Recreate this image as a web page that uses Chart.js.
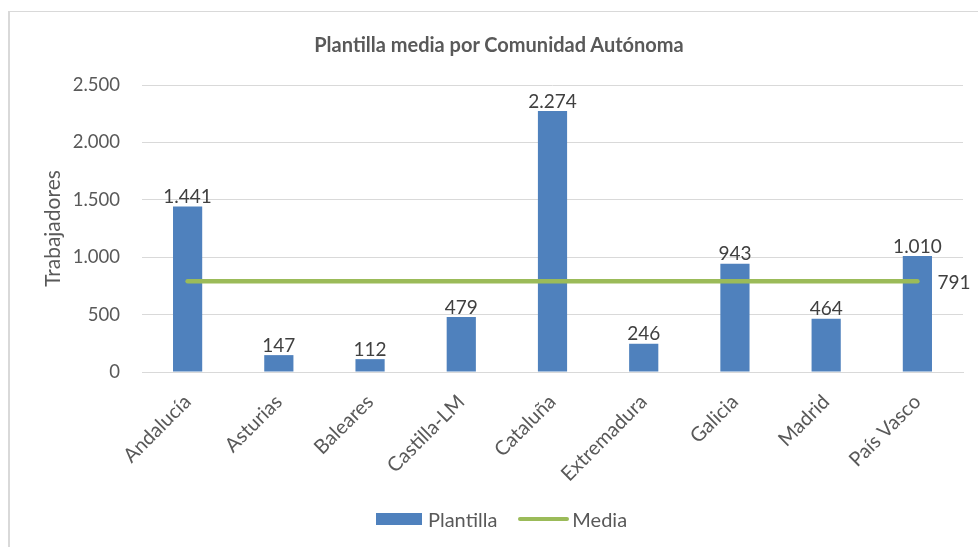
<!DOCTYPE html>
<html lang="es">
<head>
    <meta charset="UTF-8">
    <title>Plantilla media por Comunidad Autónoma</title>
    <script src="https://cdn.jsdelivr.net/npm/chart.js@4.4.1/dist/chart.umd.min.js"></script>
    <style>
        body {
            margin: 0;
            background: #ffffff;
            font-family: 'Lato', sans-serif;
        }
        .wrap {
            position: relative;
            width: 978px;
            height: 547px;
            overflow: hidden;
        }
        /* gray frame, only top and left edges show in the picture */
        .frame {
            position: absolute;
            left: 8px;
            top: 11px;
            width: 990px;
            height: 560px;
            border: 1px solid #d9d9d9;
            border-width: 1px 0 0 2px;
        }
        #chart {
            position: absolute;
            left: 0;
            top: 0;
        }
        .title {
            position: absolute;
            top: 32px;
            left: 0;
            width: 998px; /* centre sits at ~499px like the original */
            text-align: center;
            font-size: 20px;
            font-weight: bold;
            color: #595959;
            line-height: 24px;
        }
        .legend {
            position: absolute;
            top: 507px;
            left: 376px;
            display: flex;
            align-items: center;
            font-size: 20px;
            color: #595959;
        }
        .legend .box {
            width: 46px;
            height: 12px;
            background: #4f81bd;
            margin-right: 6px;
        }
        .legend .line {
            width: 51px;
            height: 4px;
            border-radius: 2px;
            background: #9bbb59;
            margin-left: 21px;
            margin-right: 3px;
        }
    </style>
</head>
<body>
<div class="wrap">
    <div class="frame"></div>
    <canvas id="chart" width="978" height="547"></canvas>
    <div class="title">Plantilla media por Comunidad Autónoma</div>
    <div class="legend">
        <span class="box"></span><span>Plantilla</span>
        <span class="line"></span><span>Media</span>
    </div>
</div>

<script>
    // data
    const comunidades = ['Andalucía', 'Asturias', 'Baleares', 'Castilla-LM', 'Cataluña',
                         'Extremadura', 'Galicia', 'Madrid', 'País Vasco'];
    const plantilla = [1441, 147, 112, 479, 2274, 246, 943, 464, 1010];
    const mediaValor = 791;
    const media = comunidades.map(() => mediaValor);
    const yTicks = [0, 500, 1000, 1500, 2000, 2500];

    // Spanish style thousands separator
    function fmt(v) {
        return String(Math.round(v)).replace(/\B(?=(\d{3})+(?!\d))/g, '.');
    }

    const labelsPlugin = {
        id: 'valueLabels',
        afterDatasetsDraw(chart) {
            const ctx = chart.ctx;
            ctx.save();
            ctx.font = '19px Lato';
            ctx.fillStyle = '#404040';

            // bar values
            const bars = chart.getDatasetMeta(0).data;
            ctx.textAlign = 'center';
            ctx.textBaseline = 'bottom';
            bars.forEach((bar, i) => {
                ctx.fillText(fmt(plantilla[i]), bar.x, bar.y);
            });

            // only the last point of the mean line gets a label
            const pts = chart.getDatasetMeta(1).data;
            const last = pts[pts.length - 1];
            ctx.textAlign = 'left';
            ctx.textBaseline = 'middle';
            ctx.fillText(fmt(mediaValor), last.x + 20, last.y + 2);
            ctx.restore();
        }
    };

    const ctx = document.getElementById('chart').getContext('2d');
    new Chart(ctx, {
        data: {
            labels: comunidades,
            datasets: [
                {
                    type: 'bar',
                    label: 'Plantilla',
                    data: plantilla,
                    backgroundColor: '#4f81bd',
                    borderWidth: 0,
                    barPercentage: 0.64,
                    categoryPercentage: 0.5,
                    order: 2
                },
                {
                    type: 'line',
                    label: 'Media',
                    data: media,
                    borderColor: '#9bbb59',
                    borderWidth: 4.5,
                    borderCapStyle: 'round',
                    pointRadius: 0,
                    fill: false,
                    order: 1
                }
            ]
        },
        options: {
            responsive: false,
            animation: false,
            // title is html, so the top padding keeps room for it
            layout: { padding: { left: 0, right: 15, top: 85, bottom: 0 } },
            plugins: {
                legend: { display: false },
                tooltip: { enabled: false },
                title: { display: false }
            },
            scales: {
                x: {
                    grid: { display: false },
                    border: { display: true, color: '#d9d9d9', width: 1 },
                    ticks: {
                        color: '#595959',
                        font: { family: 'Lato', size: 20 },
                        minRotation: 45,
                        maxRotation: 45,
                        padding: 10
                    },
                    afterFit(scale) { scale.height = 175; }
                },
                y: {
                    min: 0,
                    max: 2500,
                    afterBuildTicks(scale) {
                        scale.ticks = yTicks.map(v => ({ value: v }));
                    },
                    grid: { color: '#d9d9d9', lineWidth: 1, drawTicks: false },
                    border: { display: false },
                    ticks: {
                        color: '#595959',
                        font: { family: 'Lato', size: 18.5 },
                        padding: 22,
                        callback: v => fmt(v)
                    },
                    title: {
                        display: true,
                        text: 'Trabajadores',
                        color: '#595959',
                        font: { family: 'Lato', size: 21 },
                        padding: { top: 41, bottom: 0 }
                    },
                    afterFit(scale) { scale.width = 142; }
                }
            }
        },
        plugins: [labelsPlugin]
    });
</script>
</body>
</html>
